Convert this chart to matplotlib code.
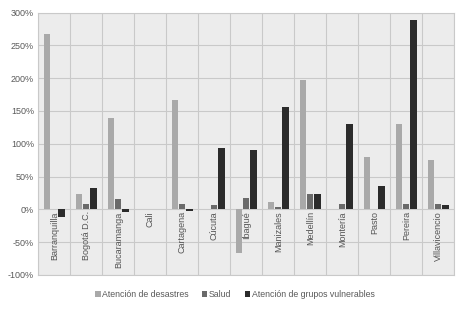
import matplotlib
matplotlib.use("Agg")
import matplotlib.pyplot as plt
import numpy as np

plt.rcParams['font.family'] = ['Liberation Sans', 'DejaVu Sans']

# data (percent)
cities = ["Barranquilla", "Bogotá D.C.", "Bucaramanga", "Cali", "Cartagena", "Cúcuta",
          "Ibagué", "Manizales", "Medellín", "Montería", "Pasto", "Pereira", "Villavicencio"]
desastres = [268, 23, 140, 0, 167, 0, -66, 11, 197, 0, 80, 130, 75]
salud = [0, 8, 16, 0, 8, 6.5, 18, 3.5, 24, 8, 0, 8, 8]
vulnerables = [-11, 32, -4, 0, -2, 94, 90, 156, 24, 130, 35.5, 289, 7]
series_names = ["Atención de desastres", "Salud", "Atención de grupos vulnerables"]
colors = ["#a9a9a9", "#6a6a6a", "#2b2b2b"]

fig = plt.figure(figsize=(4.67, 3.15), dpi=100)
ax = fig.add_axes([0.082, 0.127, 0.8908, 0.833])
ax.set_facecolor("#ececec")

x = np.arange(len(cities))
w = 0.19
step = 0.225
for i, (vals, name) in enumerate(zip([desastres, salud, vulnerables], series_names)):
    ax.bar(x + (i - 1) * step, vals, width=w, color=colors[i], label=name, zorder=3)

ax.set_xlim(-0.5, len(cities) - 0.5)
ax.set_ylim(-100, 300)
ax.set_yticks(np.arange(-100, 301, 50))
ax.set_yticklabels([f"{v}%" for v in range(-100, 301, 50)])
ax.set_xticks(np.arange(-0.5, len(cities), 1))
ax.set_xticklabels([])
ax.tick_params(axis='both', length=0, labelsize=6.5, labelcolor="#5a5a5a", pad=3)
ax.grid(True, color="#c9c9c9", linewidth=0.8, zorder=1)
for s in ax.spines.values():
    s.set_color("#c9c9c9")
    s.set_linewidth(0.8)

# category labels drawn inside the plot, below zero
for xi, c in zip(x, cities):
    ax.text(xi, -3, c, rotation=90, ha='center', va='top', fontsize=6.5,
            color="#555555", zorder=4)

fig.legend(loc='center', bbox_to_anchor=(0.503, 0.064), ncol=3, frameon=False,
           fontsize=6.3, handlelength=0.6, handleheight=0.6, handletextpad=0.2,
           columnspacing=1.5, labelcolor="#5a5a5a")

fig.savefig("out.png", dpi=100, facecolor="white")
